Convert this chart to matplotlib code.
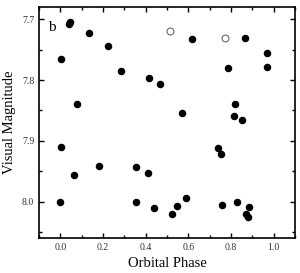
import matplotlib
matplotlib.use("Agg")
import matplotlib.pyplot as plt
from matplotlib.ticker import MultipleLocator

plt.rcParams['font.family'] = ['Liberation Serif', 'DejaVu Serif']

phase_filled = [0.040, 0.047, 0.134, 0.223, 0.001, 0.286, 0.078, 0.619, 0.415, 0.469,
                0.572, 0.867, 0.970, 0.970, 0.784, 0.817, 0.813, 0.850, 0.001, 0.183,
                0.062, 0.000, 0.354, 0.409, 0.356, 0.439, 0.526, 0.549, 0.591, 0.739,
                0.752, 0.758, 0.827, 0.884, 0.869, 0.880]
mag_filled = [7.707, 7.705, 7.722, 7.744, 7.765, 7.785, 7.840, 7.733, 7.797, 7.806,
              7.854, 7.731, 7.756, 7.778, 7.781, 7.840, 7.859, 7.866, 7.911, 7.942,
              7.957, 8.000, 7.943, 7.953, 8.001, 8.011, 8.020, 8.007, 7.994, 7.912,
              7.922, 8.006, 8.001, 8.009, 8.020, 8.025]
phase_open = [0.516, 0.772]
mag_open = [7.720, 7.731]

fig = plt.figure(figsize=(3.0, 2.73), dpi=100)
ax = fig.add_axes([0.13, 0.128, 0.853, 0.846])

ax.plot(phase_filled, mag_filled, 'o', color='black', markersize=4.4, linestyle='none')
ax.plot(phase_open, mag_open, 'o', markerfacecolor='white', markeredgecolor='#555555',
        markeredgewidth=0.7, markersize=5.0, linestyle='none')

ax.set_xlim(-0.1, 1.1)
ax.set_ylim(8.06, 7.68)
ax.xaxis.set_major_locator(MultipleLocator(0.2))
ax.xaxis.set_minor_locator(MultipleLocator(0.1))
ax.yaxis.set_major_locator(MultipleLocator(0.1))
ax.yaxis.set_minor_locator(MultipleLocator(0.05))
ax.tick_params(which='both', direction='in', top=True, right=True, labelsize=7,
               labelcolor='#333333', width=1.0)
ax.tick_params(which='major', length=3.5)
ax.tick_params(which='minor', length=2)
for s in ax.spines.values():
    s.set_linewidth(1.2)

ax.set_xlabel('Orbital Phase', fontsize=10.5, labelpad=3.5)
ax.set_ylabel('Visual Magnitude', fontsize=10.5, labelpad=4)
ax.text(0.035, 0.94, 'b', transform=ax.transAxes, fontsize=11, va='top', ha='left')

fig.savefig('out.png', dpi=100)
